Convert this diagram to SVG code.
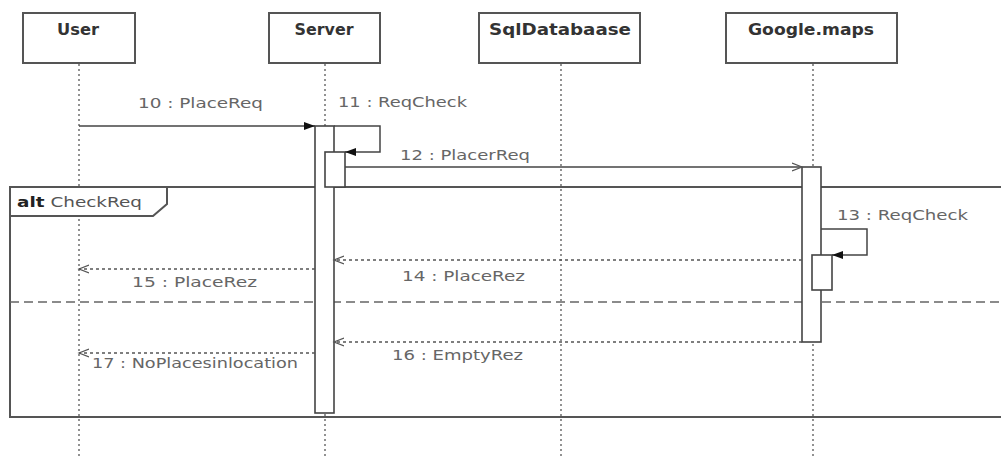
<svg xmlns="http://www.w3.org/2000/svg" width="1001" height="456" viewBox="0 0 1001 456">
<style>
.box{fill:#fff;stroke:#555;stroke-width:2}
.hdr{font-family:"DejaVu Sans",sans-serif;font-weight:bold;font-size:15px;fill:#333;text-anchor:middle}
.life{stroke:#777;stroke-width:1.6;stroke-dasharray:2,3;fill:none}
.act{fill:#fff;stroke:#444;stroke-width:1.6}
.msg{stroke:#444;stroke-width:1.5;fill:none}
.ret{stroke:#555;stroke-width:1.4;stroke-dasharray:3,3;fill:none}
.lbl{font-family:"DejaVu Sans",sans-serif;font-size:14px;fill:#666}
.frame{fill:none;stroke:#555;stroke-width:2}
</style>
<defs>
<marker id="filled" markerWidth="12" markerHeight="10" refX="11" refY="5" orient="auto" markerUnits="userSpaceOnUse">
<path d="M0,1 L11,5 L0,9 Z" fill="#111"/>
</marker>
<marker id="open" markerWidth="12" markerHeight="10" refX="10" refY="5" orient="auto" markerUnits="userSpaceOnUse">
<path d="M0,1 L10,5 L0,9" fill="none" stroke="#555" stroke-width="1.2"/>
</marker>
</defs>
<rect width="1001" height="456" fill="#fff"/>

<g id="lifelines">
<line class="life" x1="79" y1="64" x2="79" y2="456"/>
<line class="life" x1="325" y1="64" x2="325" y2="456"/>
<line class="life" x1="561" y1="64" x2="561" y2="456"/>
<line class="life" x1="813" y1="64" x2="813" y2="456"/>
</g>

<g id="node-user">
<rect class="box" x="23" y="13" width="112" height="50"/>
<text class="hdr" x="78" y="35" textLength="42" lengthAdjust="spacingAndGlyphs">User</text>
</g>
<g id="node-server">
<rect class="box" x="269" y="13" width="111" height="50"/>
<text class="hdr" x="324" y="35" textLength="59" lengthAdjust="spacingAndGlyphs">Server</text>
</g>
<g id="node-sqldatabaase">
<rect class="box" x="479" y="13" width="161" height="50"/>
<text class="hdr" x="560" y="35" textLength="142" lengthAdjust="spacingAndGlyphs">SqlDatabaase</text>
</g>
<g id="node-googlemaps">
<rect class="box" x="726" y="13" width="171" height="50"/>
<text class="hdr" x="811" y="35" textLength="126" lengthAdjust="spacingAndGlyphs">Google.maps</text>
</g>

<g id="frame-alt">
<rect class="frame" x="10" y="187" width="1000" height="230"/>
<path d="M10,187 H167 V204 L153,216 H10 Z" fill="#fff" stroke="#555" stroke-width="2"/>
<text x="17" y="207" font-family="DejaVu Sans,sans-serif" font-size="14" fill="#555" textLength="125" lengthAdjust="spacingAndGlyphs"><tspan font-weight="bold" fill="#222">alt</tspan> CheckReq</text>
<line x1="10" y1="302" x2="1001" y2="302" stroke="#666" stroke-width="1.6" stroke-dasharray="9,5"/>
</g>

<g id="activations">
<rect class="act" x="315" y="126" width="19" height="287"/>
<rect class="act" x="325" y="152" width="20" height="35"/>
<rect class="act" x="802" y="167" width="19" height="175"/>
<rect class="act" x="812" y="255" width="20" height="35"/>
</g>

<g id="connectors">
<line class="msg" x1="79" y1="126" x2="315" y2="126" stroke-width="2.2" marker-end="url(#filled)"/>
<polyline class="msg" points="334,126 380,126 380,152 345,152" marker-end="url(#filled)"/>
<line class="msg" x1="345" y1="167" x2="802" y2="167" marker-end="url(#open)"/>
<polyline class="msg" points="821,229 867,229 867,255 832,255" marker-end="url(#filled)"/>
<line class="ret" x1="802" y1="260" x2="334" y2="260" marker-end="url(#open)"/>
<line class="ret" x1="315" y1="269" x2="79" y2="269" marker-end="url(#open)"/>
<line class="ret" x1="802" y1="342" x2="334" y2="342" marker-end="url(#open)"/>
<line class="ret" x1="315" y1="353" x2="79" y2="353" marker-end="url(#open)"/>
</g>

<g id="labels">
<text class="lbl" x="138" y="108" textLength="125" lengthAdjust="spacingAndGlyphs">10 : PlaceReq</text>
<text class="lbl" x="338" y="107" textLength="129" lengthAdjust="spacingAndGlyphs">11 : ReqCheck</text>
<text class="lbl" x="400" y="160" textLength="130" lengthAdjust="spacingAndGlyphs">12 : PlacerReq</text>
<text class="lbl" x="837" y="220" textLength="131" lengthAdjust="spacingAndGlyphs">13 : ReqCheck</text>
<text class="lbl" x="402" y="281" textLength="123" lengthAdjust="spacingAndGlyphs">14 : PlaceRez</text>
<text class="lbl" x="132" y="287" textLength="125" lengthAdjust="spacingAndGlyphs">15 : PlaceRez</text>
<text class="lbl" x="392" y="360" textLength="131" lengthAdjust="spacingAndGlyphs">16 : EmptyRez</text>
<text class="lbl" x="92" y="368" textLength="206" lengthAdjust="spacingAndGlyphs">17 : NoPlacesinlocation</text>
</g>
</svg>
